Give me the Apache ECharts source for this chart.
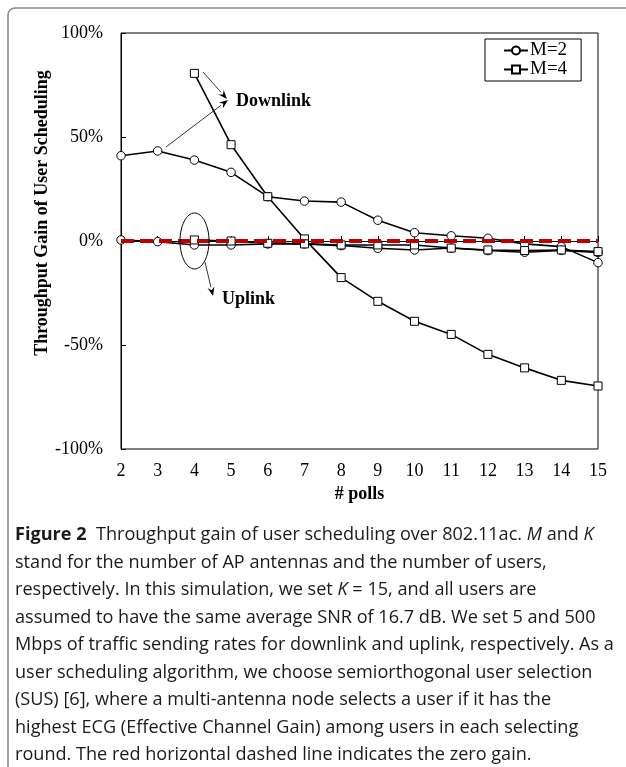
<!DOCTYPE html>
<html><head><meta charset="utf-8">
<script src="https://cdn.jsdelivr.net/npm/echarts@6/dist/echarts.min.js"></script>
<style>html,body{margin:0;padding:0;background:#fff}#c{width:626px;height:767px}</style>
</head><body><div id="c"></div>
<script>
// ---- data ----
const polls = [2, 3, 4, 5, 6, 7, 8, 9, 10, 11, 12, 13, 14, 15];
const downlinkM2 = [41, 43.3, 38.9, 33, 21.3, 19.2, 18.7, 10, 4, 2.5, 1.3, -1.4, -2.7, -10.4];
const downlinkM4 = [null, null, 80.6, 46.3, 21.3, 1, -17.6, -29, -38.6, -44.9, -54.5, -61, -67, -69.7];
const uplinkM2 = [0.5, -0.3, -1.9, -1.9, -1.4, -1.4, -2.2, -3.5, -4.3, -3.4, -4.6, -5.4, -4.5, -5.5];
const uplinkM4 = [null, null, 0.5, 0, -1.1, -1.4, -1.9, -1.9, -1.9, -3.4, -4.3, -4.6, -4.3, -5.1];
const zeroGain = [0, 0];
const zeroGainX = [2, 15];
const yTickValues = [-100, -50, 0, 50, 100];
const legendNames = ['M=2', 'M=4'];
const captionLines = [
  '{b|Figure 2}  Throughput gain of user scheduling over 802.11ac. {i|M} and {i|K}',
  'stand for the number of AP antennas and the number of users,',
  'respectively. In this simulation, we set {i|K} = 15, and all users are',
  'assumed to have the same average SNR of 16.7 dB. We set 5 and 500',
  'Mbps of traffic sending rates for downlink and uplink, respectively. As a',
  'user scheduling algorithm, we choose semiorthogonal user selection',
  '(SUS) [6], where a multi-antenna node selects a user if it has the',
  'highest ECG (Effective Channel Gain) among users in each selecting',
  'round. The red horizontal dashed line indicates the zero gain.'
];

const pair = (xs, ys) => xs.map((x, i) => [x, ys[i]]).filter(p => p[1] !== null);

const chart = echarts.init(document.getElementById('c'), null, {renderer: 'canvas'});
const serif = 'Liberation Serif, Times New Roman, serif';
const capFont = 'Open Sans';
const capSize = 18.1;

function blackSeries(name, symbol, values) {
  return {
    name: name, type: 'line', data: pair(polls, values),
    symbol: symbol, symbolSize: symbol === 'rect' ? 8 : 8.5,
    itemStyle: {color: '#fff', borderColor: '#000', borderWidth: 1},
    lineStyle: {color: '#000', width: 1.6},
    emphasis: {disabled: true}, z: 3
  };
}

function arrow(x1, y1, x2, y2, w) {
  const a = Math.atan2(y2 - y1, x2 - x1);
  const L = 9, H = 3.5;
  const bx = x2 - L * Math.cos(a), by = y2 - L * Math.sin(a);
  return [
    {type: 'line', shape: {x1: x1, y1: y1, x2: bx, y2: by}, style: {stroke: '#000', lineWidth: w || 0.8}, z: 10},
    {type: 'polygon', shape: {points: [[x2, y2],
      [bx + H * Math.sin(a), by - H * Math.cos(a)],
      [bx + 3 * Math.cos(a), by + 3 * Math.sin(a)],
      [bx - H * Math.sin(a), by + H * Math.cos(a)]]}, style: {fill: '#000'}, z: 10}
  ];
}

const graphics = [
  {type: 'rect', shape: {x: 8, y: 8, width: 700, height: 800, r: 7}, style: {fill: 'none', stroke: '#8a8a8a', lineWidth: 1.6}, z: 0},
  {type: 'text', x: 42, y: 213, rotation: Math.PI / 2,
    style: {text: 'Throughput Gain of User Scheduling', font: 'bold 18px ' + serif, fill: '#000', align: 'center', verticalAlign: 'middle'}},
  {type: 'text', x: 236, y: 101, style: {text: 'Downlink', font: 'bold 18px ' + serif, fill: '#000', align: 'left', verticalAlign: 'middle'}, z: 10},
  {type: 'text', x: 222, y: 299, style: {text: 'Uplink', font: 'bold 18px ' + serif, fill: '#000', align: 'left', verticalAlign: 'middle'}, z: 10},
  {type: 'ellipse', shape: {cx: 194.5, cy: 241, rx: 14.5, ry: 28}, style: {fill: 'none', stroke: '#000', lineWidth: 1}, z: 10}
].concat(arrow(203, 72, 227, 99), arrow(166, 147, 228, 100), arrow(205, 262, 213, 296));

captionLines.forEach((t, i) => {
  graphics.push({type: 'text', x: 15, y: 535 + i * 27.5,
    style: {text: t, fontFamily: capFont, fontSize: capSize, fill: '#1a1a1a', align: 'left', verticalAlign: 'middle',
      rich: {b: {fontWeight: 'bold', fontFamily: capFont, fontSize: capSize, fill: '#1a1a1a'},
             i: {fontStyle: 'italic', fontFamily: capFont, fontSize: capSize, fill: '#1a1a1a'}}}});
});

chart.setOption({
  animation: false,
  backgroundColor: '#fff',
  grid: {left: 121, right: 28, top: 33, bottom: 318, show: true, borderColor: '#000', borderWidth: 1, backgroundColor: 'transparent'},
  legend: {
    data: legendNames, orient: 'vertical', left: 485, top: 39,
    padding: [2, 14, 2, 18], itemGap: 0, itemWidth: 24, itemHeight: 10,
    borderColor: '#000', borderWidth: 1, borderRadius: 0, backgroundColor: '#fff',
    textStyle: {fontFamily: serif, fontSize: 19, color: '#000', lineHeight: 19, padding: [0, 0, 0, -3]},
    selectedMode: false
  },
  xAxis: {
    type: 'value', min: 2, max: 15, interval: 1,
    name: '# polls', nameLocation: 'middle', nameGap: 33,
    nameTextStyle: {fontFamily: serif, fontSize: 18, fontWeight: 'bold', color: '#000'},
    axisLine: {show: true, lineStyle: {color: '#000', width: 1}},
    axisTick: {show: true, inside: true, length: 5, lineStyle: {color: '#000'}},
    axisLabel: {fontFamily: serif, fontSize: 18, color: '#000', margin: 13},
    splitLine: {show: false}
  },
  yAxis: {
    type: 'value', min: yTickValues[0], max: yTickValues[yTickValues.length - 1], interval: 50,
    axisLine: {show: true, lineStyle: {color: '#000', width: 1}},
    axisTick: {show: true, inside: true, length: 5, lineStyle: {color: '#000'}},
    axisLabel: {fontFamily: serif, fontSize: 18, color: '#000', margin: 18, formatter: '{value}%'},
    splitLine: {show: false}
  },
  series: [
    blackSeries('M=2', 'circle', downlinkM2),
    blackSeries('M=4', 'rect', downlinkM4),
    blackSeries('M=2', 'circle', uplinkM2),
    blackSeries('M=4', 'rect', uplinkM4),
    {name: 'zero', type: 'line', data: pair(zeroGainX, zeroGain), symbol: 'none',
      lineStyle: {color: '#c00000', width: 4, type: [13, 6], cap: 'butt'}, emphasis: {disabled: true}, z: 4}
  ],
  graphic: graphics
});
</script></body></html>
